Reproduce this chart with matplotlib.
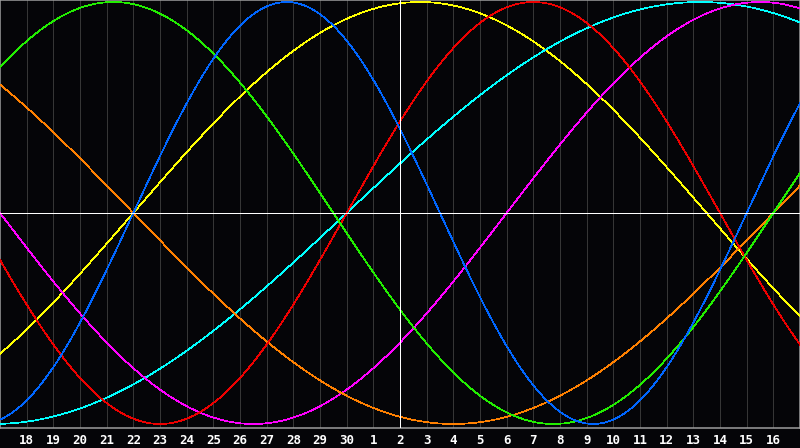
import numpy as np
import matplotlib
matplotlib.use("Agg")
import matplotlib.pyplot as plt

# Day labels along the bottom (chart spans 30 days, left edge = day 17)
day_labels = ["18", "19", "20", "21", "22", "23", "24", "25", "26", "27", "28", "29", "30",
              "1", "2", "3", "4", "5", "6", "7", "8", "9", "10", "11", "12", "13", "14", "15", "16"]
today_label = "2"

# Biorhythm cycles: period (days) and chart-day where each cycle crosses zero going up
cycle_names = ["physical", "emotional", "intellectual", "intuitive", "aesthetic", "awareness", "spiritual"]
cycle_periods = [23, 28, 33, 38, 43, 48, 53]
cycle_zero_up = [5.0, 13.0, -4.0, 19.0, 5.0, 29.0, 13.0]
cycle_colors = ["#0066ff", "#ee0000", "#22ee00", "#ff00ff", "#ffff00", "#ff8000", "#00ffff"]

bg = "#050508"
px = 72 / 100  # one pixel in points
fig = plt.figure(figsize=(8, 4.48), dpi=100, facecolor=bg)
ax = fig.add_axes([0, 20 / 448, 1, 428 / 448], facecolor=bg)

n_days = len(day_labels) + 1
tick_pos = np.arange(1, n_days)

# vertical day grid
for xp in tick_pos:
    ax.axvline(xp, color="#363636", lw=px, zorder=1, antialiased=False)

t = np.linspace(0, n_days, 1600)
order = [4, 6, 3, 5, 1, 2, 0]
for i in order:
    v = np.sin(2 * np.pi * (t - cycle_zero_up[i]) / cycle_periods[i])
    ax.plot(t, v, color=cycle_colors[i], lw=0.5, zorder=3, antialiased=False)

# today line and zero line
today_idx = day_labels.index(today_label) + 1
ax.axvline(today_idx, color="white", lw=px, zorder=4, antialiased=False)
ax.axhline(0, color="white", lw=px, zorder=4, antialiased=False)

ax.set_xlim(0, n_days)
ax.set_ylim(-1.019, 1.0095)
ax.set_yticks([])
ax.set_xticks(tick_pos)
ax.set_xticklabels(day_labels, color="white", fontsize=9, fontweight="bold",
                   family="DejaVu Sans Mono")
ax.tick_params(axis="x", length=0, pad=4)
for s in ax.spines.values():
    s.set_color("#a0a0a0")
    s.set_linewidth(px * 1.5)

fig.savefig("out.png", dpi=100, facecolor=bg)
